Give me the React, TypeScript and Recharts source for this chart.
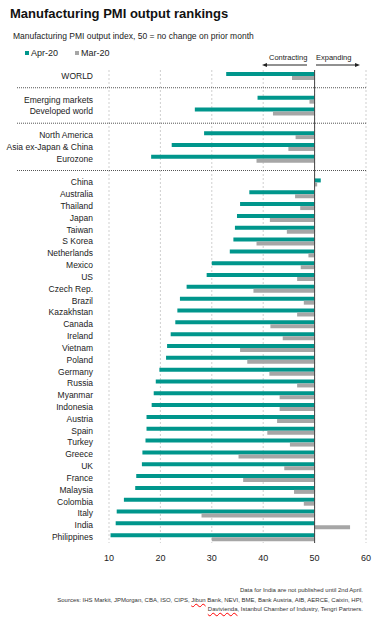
import React from 'react';
import {
  BarChart,
  Bar,
  XAxis,
  YAxis,
  CartesianGrid,
  ReferenceLine,
} from 'recharts';

// rows top to bottom, "" = blank separator row
const labels = [
  'WORLD', '',
  'Emerging markets', 'Developed world', '',
  'North America', 'Asia ex-Japan & China', 'Eurozone', '',
  'China', 'Australia', 'Thailand', 'Japan', 'Taiwan', 'S Korea', 'Netherlands',
  'Mexico', 'US', 'Czech Rep.', 'Brazil', 'Kazakhstan', 'Canada', 'Ireland',
  'Vietnam', 'Poland', 'Germany', 'Russia', 'Myanmar', 'Indonesia', 'Austria',
  'Spain', 'Turkey', 'Greece', 'UK', 'France', 'Malaysia', 'Colombia', 'Italy',
  'India', 'Philippines',
];

const apr20 = [
  32.8, null,
  38.9, 26.7, null,
  28.5, 22.2, 18.2, null,
  51.2, 37.3, 35.5, 34.9, 34.5, 34.2, 33.5,
  30.0, 29.0, 25.1, 23.8, 23.3, 22.9, 22.0,
  21.3, 21.1, 19.8, 19.1, 18.7, 18.3, 17.3,
  17.3, 17.1, 16.5, 16.4, 15.3, 15.1, 12.9, 11.5,
  11.3, 10.3,
];

const mar20 = [
  45.6, null,
  49.0, 41.9, null,
  46.3, 44.9, 38.7, null,
  50.5, 46.2, 47.2, 41.3, 44.6, 38.7, 48.8,
  47.3, 46.6, 38.1, 47.9, 46.6, 41.4, 43.8,
  35.5, 36.9, 41.2, 46.6, 43.2, 43.2, 42.7,
  40.8, 45.2, 35.2, 44.1, 36.1, 46.0, 47.9, 28.0,
  56.9, 30.0,
];

const xTicks = [10, 20, 30, 40, 50, 60];
const NEUTRAL = 50;

const TEAL = '#00968c';
const GREY = '#a6a6a6';
const FONT = 'Arial, "Liberation Sans", sans-serif';

const span = (v: number | null) =>
  v == null ? null : [Math.min(v, NEUTRAL), Math.max(v, NEUTRAL)];

const data = labels.map((label, i) => ({
  id: label === '' ? `gap${i}` : label,
  label,
  apr: span(apr20[i]),
  mar: span(mar20[i]),
}));

const gapIds = data.filter((d) => d.label === '').map((d) => d.id);

const Separator = (p: any) => (
  <line
    x1={p.x1 - 92}
    x2={p.x2}
    y1={p.y1}
    y2={p.y2}
    stroke="#555"
    strokeWidth={1}
    strokeDasharray="1 1"
  />
);

const CountryTick = (p: any) => {
  const v: string = p.payload.value;
  if (v.startsWith('gap')) return null;
  return (
    <text
      x={p.x - 8}
      y={p.y}
      dy="0.35em"
      textAnchor="end"
      fontSize={8.5}
      fill="#222"
      fontFamily={FONT}
    >
      {v}
    </text>
  );
};

const App: React.FC = () => {
  return (
    <div
      style={{
        position: 'absolute',
        top: 0,
        left: 0,
        width: 391,
        height: 622,
        background: '#fff',
        fontFamily: FONT,
        color: '#222',
      }}
    >
      <div
        style={{
          position: 'absolute',
          left: 10,
          top: 6,
          fontSize: 13,
          fontWeight: 'bold',
          color: '#111',
          whiteSpace: 'nowrap',
        }}
      >
        Manufacturing PMI output rankings
      </div>
      <div
        style={{
          position: 'absolute',
          left: 13,
          top: 31,
          fontSize: 8.5,
          whiteSpace: 'nowrap',
        }}
      >
        Manufacturing PMI output index, 50 = no change on prior month
      </div>
      <div
        style={{
          position: 'absolute',
          left: 25,
          top: 48,
          fontSize: 9,
          whiteSpace: 'nowrap',
          display: 'flex',
          alignItems: 'center',
        }}
      >
        <span style={{ width: 4, height: 4, background: TEAL, display: 'inline-block', marginRight: 2 }} />
        <span>Apr-20</span>
        <span style={{ width: 4, height: 4, background: GREY, display: 'inline-block', marginLeft: 17, marginRight: 2 }} />
        <span>Mar-20</span>
      </div>

      <svg
        width={391}
        height={80}
        style={{ position: 'absolute', left: 0, top: 0 }}
      >
        <text x={269} y={60} fontSize={7.5} fill="#222" fontFamily={FONT}>
          Contracting
        </text>
        <text x={316} y={60} fontSize={7.5} fill="#222" fontFamily={FONT}>
          Expanding
        </text>
        <line x1={266} x2={307} y1={65} y2={65} stroke="#222" strokeWidth={1} />
        <path d="M262,65 L267,63 L267,67 Z" fill="#222" />
        <line x1={316} x2={356} y1={65} y2={65} stroke="#222" strokeWidth={1} />
        <path d="M360,65 L355,63 L355,67 Z" fill="#222" />
      </svg>

      <div style={{ position: 'absolute', left: 0, top: 0 }}>
        <BarChart
          width={391}
          height={570}
          data={data}
          layout="vertical"
          margin={{ top: 70, right: 25, bottom: 7, left: 0 }}
          barGap={0}
          barSize={4}
        >
          <CartesianGrid
            horizontal={false}
            stroke="#cfcfcf"
            strokeDasharray="2 2"
          />
          <XAxis
            type="number"
            domain={[10, 60]}
            ticks={xTicks}
            axisLine={false}
            tickLine={false}
            tickMargin={6}
            tick={{ fontSize: 9, fill: '#222', fontFamily: FONT }}
            height={20}
          />
          <YAxis
            type="category"
            dataKey="id"
            width={109}
            interval={0}
            axisLine={false}
            tickLine={false}
            tick={CountryTick}
          />
          <Bar dataKey="apr" fill={TEAL} isAnimationActive={false} />
          <Bar dataKey="mar" fill={GREY} isAnimationActive={false} />
          <ReferenceLine x={NEUTRAL} stroke="#444" strokeWidth={1} />
          {gapIds.map((g) => (
            <ReferenceLine key={g} y={g} shape={Separator} />
          ))}
        </BarChart>
      </div>

      <div
        style={{
          position: 'absolute',
          right: 28,
          top: 586,
          fontSize: 6,
          lineHeight: '9.5px',
          textAlign: 'right',
          color: '#333',
          whiteSpace: 'nowrap',
        }}
      >
        Data for India are not published until 2nd April.
        <br />
        Sources: IHS Markit, JPMorgan, CBA, ISO, CIPS,{' '}
        <span style={{ textDecoration: 'underline wavy red' }}>Jibun</span> Bank, NEVI,
        BME, Bank Austria, AIB, AERCE, Caixin, HPI,
        <br />
        <span style={{ textDecoration: 'underline wavy red' }}>Davivienda</span>, Istanbul
        Chamber of Industry, Tengri Partners.
      </div>
    </div>
  );
};

export default App;
